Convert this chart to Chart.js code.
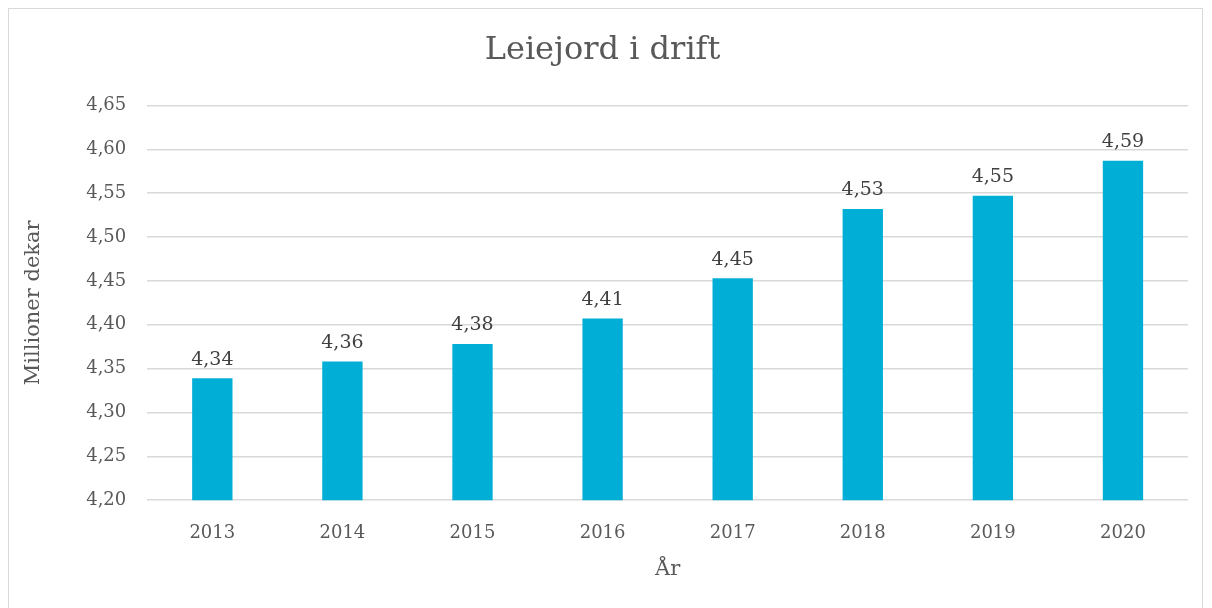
<!DOCTYPE html>
<html>
<head>
<meta charset="utf-8">
<script src="https://cdn.jsdelivr.net/npm/chart.js@4"></script>
<style>
  html, body { margin: 0; padding: 0; background: #fff; }
  #wrap {
    position: absolute; left: 8px; top: 8px;
    width: 1195px; height: 610px;
    border: 1px solid #d9d9d9; box-sizing: border-box;
  }
  canvas { display: block; }
</style>
</head>
<body>
<div id="wrap"><canvas id="chart"></canvas></div>
<script>
// Data
const years = ['2013', '2014', '2015', '2016', '2017', '2018', '2019', '2020'];
const leiejord = [4.339, 4.358, 4.378, 4.407, 4.453, 4.532, 4.547, 4.587];
const yTicks = [4.20, 4.25, 4.30, 4.35, 4.40, 4.45, 4.50, 4.55, 4.60, 4.65];

const FONT = "Georgia, 'DejaVu Serif', serif";
const TEXT = '#595959';

const fmt = v => v.toFixed(2).replace('.', ',');

// Verdier over søylene
const barLabels = {
    id: 'barLabels',
    afterDatasetsDraw(chart) {
        const ctx = chart.ctx;
        const meta = chart.getDatasetMeta(0);
        ctx.save();
        ctx.font = '19px ' + FONT;
        ctx.fillStyle = '#404040';
        ctx.textAlign = 'center';
        ctx.textBaseline = 'bottom';
        meta.data.forEach((bar, i) => {
            ctx.fillText(fmt(leiejord[i]), bar.x, bar.y - 9);
        });
        ctx.restore();
    }
};

new Chart(document.getElementById('chart').getContext('2d'), {
    type: 'bar',
    data: {
        labels: years,
        datasets: [{
            data: leiejord,
            backgroundColor: '#00AED6',
            categoryPercentage: 1,
            barPercentage: 0.31
        }]
    },
    options: {
        responsive: true,
        maintainAspectRatio: false,
        animation: false,
        layout: { padding: { left: 8, right: 14, top: 16, bottom: 31 } },
        plugins: {
            legend: { display: false },
            tooltip: { enabled: false },
            title: {
                display: true,
                text: 'Leiejord i drift',
                color: TEXT,
                font: { family: FONT, size: 32, weight: 'normal' },
                padding: { top: 6, bottom: 36 }
            }
        },
        scales: {
            y: {
                min: 4.20,
                max: 4.65,
                afterBuildTicks: axis => { axis.ticks = yTicks.map(v => ({ value: v })); },
                ticks: {
                    color: TEXT,
                    font: { family: FONT, size: 18 },
                    padding: 21,
                    callback: v => fmt(v)
                },
                grid: { color: '#d9d9d9', lineWidth: 1.5, drawTicks: false },
                border: { display: false },
                title: {
                    display: true,
                    text: 'Millioner dekar',
                    color: TEXT,
                    font: { family: FONT, size: 21 },
                    padding: { bottom: 19 }
                }
            },
            x: {
                ticks: {
                    color: TEXT,
                    font: { family: FONT, size: 18 },
                    padding: 22
                },
                grid: { display: false, drawTicks: false },
                border: { display: false },
                title: {
                    display: true,
                    text: 'År',
                    color: TEXT,
                    font: { family: FONT, size: 21 },
                    padding: { top: -9 }
                }
            }
        }
    },
    plugins: [barLabels]
});
</script>
</body>
</html>
